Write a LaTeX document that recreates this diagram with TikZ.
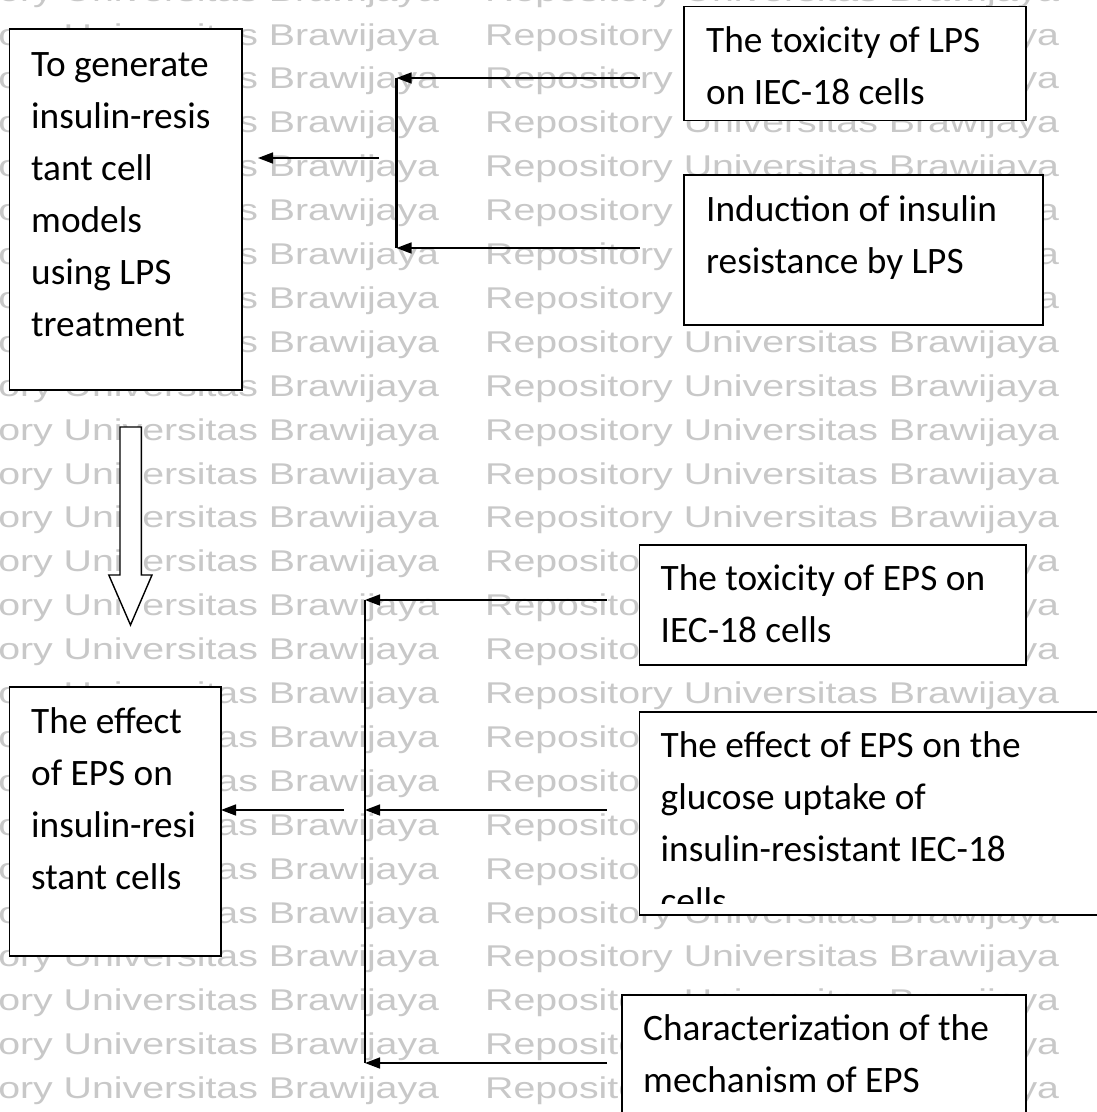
\documentclass[tikz,border=0pt]{standalone}
\usepackage{fontspec}
\setmainfont{Carlito}
\newfontfamily\wmfont{Liberation Sans}
\usepackage{graphicx}
\usetikzlibrary{arrows.meta,calc}
\definecolor{wmgray}{RGB}{200,200,200}
\begin{document}
\begin{tikzpicture}[x=1pt,y=-1pt,
  box/.style={draw=black,line width=1.3pt,fill=white,rectangle,inner sep=0pt,outer sep=0pt,anchor=north west},
  txt/.style={anchor=base west,inner sep=0pt,font=\fontsize{37.3}{44}\selectfont},
  wm/.style={anchor=base west,inner sep=0pt,text=wmgray,font=\wmfont\fontsize{30}{36}\selectfont},
  conn/.style={line width=1.5pt,-{Triangle[length=15pt,width=11pt]}},
  bar/.style={line width=2.2pt},
  hollow/.style={draw=black,line width=1.4pt,fill=white}
]
\useasboundingbox (0,0) rectangle (1097,1112);
\fill[white] (0,0) rectangle (1097,1112);
\begin{scope}
\clip (0,0) rectangle (1097,1112);
% watermark
\foreach \k in {0,...,25} {
  \node[wm] (wmA\k) at (-135,{1.1+43.9*\k}) {\scalebox{1.309}[1]{Repository Universitas Brawijaya}};
  \node[wm] (wmB\k) at (485,{1.1+43.9*\k}) {\scalebox{1.309}[1]{Repository Universitas Brawijaya}};
}
% boxes
\node[box,minimum width=232.2pt,minimum height=361pt] (A) at (9.8,29) {};
\node[box,minimum width=342pt,minimum height=114pt] (B) at (684,6.7) {};
\node[box,minimum width=359pt,minimum height=150pt] (C) at (684,175) {};
\node[box,minimum width=211.2pt,minimum height=269pt] (D) at (9.8,687) {};
\node[box,minimum width=386.5pt,minimum height=120pt] (E) at (639.5,545) {};
\node[box,minimum width=500pt,minimum height=203pt] (F) at (639.5,712) {};
\node[box,minimum width=404pt,minimum height=200pt] (G) at (622,995) {};
% texts
\foreach \t [count=\i from 0] in {To generate,insulin-resis,tant cell,models,using LPS,treatment}
  \node[txt] (A-t\i) at (31,{76+52*\i}) {\t};
\foreach \t [count=\i from 0] in {The toxicity of LPS,on IEC-18 cells}
  \node[txt] (B-t\i) at (706,{52+52*\i}) {\t};
\foreach \t [count=\i from 0] in {Induction of insulin,resistance by LPS}
  \node[txt] (C-t\i) at (706,{221.5+52*\i}) {\t};
\foreach \t [count=\i from 0] in {The effect,of EPS on,insulin-resi,stant cells}
  \node[txt] (D-t\i) at (31,{733+52*\i}) {\t};
\foreach \t [count=\i from 0] in {The toxicity of EPS on,IEC-18 cells}
  \node[txt] (E-t\i) at (660.5,{590+52*\i}) {\t};
\begin{scope}
\clip (639.5,712) rectangle (1100,903);
\foreach \t [count=\i from 0] in {The effect of EPS on the,glucose uptake of,insulin-resistant IEC-18,cells}
  \node[txt] (F-t\i) at (660.5,{757+52*\i}) {\t};
\end{scope}
\foreach \t [count=\i from 0] in {Characterization of the,mechanism of EPS}
  \node[txt] (G-t\i) at (643,{1040+52*\i}) {\t};
% top connectors
\coordinate (bS) at (639.5,78);
\coordinate (cS) at (639.5,248);
\coordinate (t1) at (396.5,78);
\coordinate (t2) at (396.5,248);
\draw[bar] (t1) -- (t2);
\draw[conn] (bS) -- (t1);
\draw[conn] (cS) -- (t2);
\coordinate (aS) at (379,158);
\draw[conn] (aS) -- ($(aS -| A.east)+(16,0)$);
% bottom connectors
\coordinate (eS) at (607,600);
\coordinate (fS) at (607,810);
\coordinate (gS) at (607,1063);
\coordinate (u1) at (365,600);
\coordinate (u2) at (365,810);
\coordinate (u3) at (365,1063);
\draw[bar] (u1) -- (u3);
\draw[conn] (eS) -- (u1);
\draw[conn] (fS) -- (u2);
\draw[conn] (gS) -- (u3);
\coordinate (dS) at (344,810);
\draw[conn] (dS) -- (dS -| D.east);
% hollow block arrow
\draw[hollow] (120,427) -- (141.4,427) -- (141.4,575) -- (152,575) -- (130.5,625) -- (108.8,575) -- (120,575) -- cycle;
\end{scope}
\end{tikzpicture}
\end{document}
